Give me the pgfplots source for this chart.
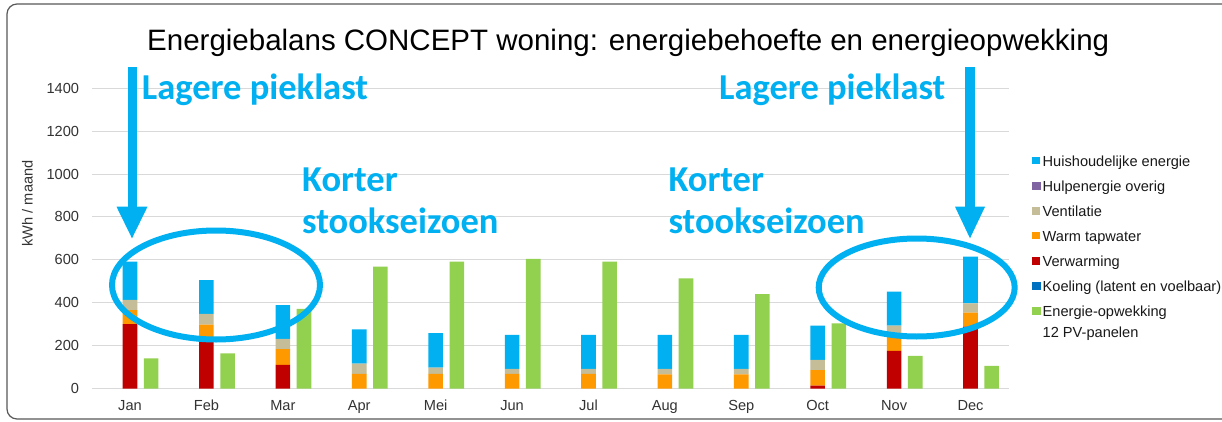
\documentclass[border=0pt]{standalone}
\usepackage{pgfplots}
\usepackage{pgfplotstable}
\pgfplotsset{compat=1.18}
\usepackage{fontspec}
\setmainfont{Liberation Sans}
\newfontfamily\carlito{Carlito}
\definecolor{huis}{HTML}{00B0F0}
\definecolor{hulp}{HTML}{8064A2}
\definecolor{vent}{HTML}{C4BD97}
\definecolor{tap}{HTML}{FF9900}
\definecolor{verw}{HTML}{C00000}
\definecolor{koel}{HTML}{0070C0}
\definecolor{pv}{HTML}{92D050}
\definecolor{annot}{HTML}{00B0F0}
\definecolor{txt}{HTML}{333333}
\definecolor{gridc}{HTML}{D9D9D9}
\newcommand{\sm}{\fontsize{14.6}{17}\selectfont}

\pgfplotstableread{
x verw tap vent huis pv
0 300 66 47 179 141
1 219 79 50 158 164
2 110 74 47 158 371
3 0 68 48 160 568
4 0 68 29 161 592
5 0 68 23 159 604
6 0 68 23 159 592
7 0 66 25 159 514
8 0 66 25 159 440
9 13 73 47 160 304
10 176 70 47 159 152
11 288 66 43 218 105
}\energy

\pgfplotsset{
  lg/.style={legend image code/.code={\fill[#1] (0pt,-1.6pt) rectangle (7.5pt,5.9pt);}},
  basis/.style={
    at={(91.8pt,32.5pt)}, anchor=south west,
    width=916.9pt, height=300.2pt, scale only axis,
    xmin=-0.5, xmax=11.5, ymin=0, ymax=1400,
  },
}

\begin{document}
\begin{tikzpicture}[x=1pt,y=1pt]
\useasboundingbox (0,0) rectangle (1222,421);
\clip (0,0) rectangle (1222,421);
\fill[white] (0,0) rectangle (1222,421);
\begin{axis}[basis,
  ybar stacked, bar width=0.191,
  axis line style={draw=none},
  major tick length=0pt,
  ymajorgrids, grid style={gridc, line width=1pt},
  xtick={0,...,11},
  xticklabels={Jan,Feb,Mar,Apr,Mei,Jun,Jul,Aug,Sep,Oct,Nov,Dec},
  ytick={0,200,...,1400},
  scaled y ticks=false,
  /pgf/number format/1000 sep={},
  /pgf/number format/assume math mode=true,
  tick label style={font=\sm, text=txt, inner sep=0pt},
  yticklabel style={anchor=east, xshift=-12.5pt},
  xticklabel style={anchor=base, yshift=-21.5pt},
  reverse legend,
  legend cell align=left,
  legend style={at={(axis description cs:1.0255,0.7755)}, anchor=north west,
    draw=none, fill=none, inner sep=0pt, row sep=11pt, column sep=2.5pt,
    font=\sm, text=black!90,
    nodes={inner sep=0pt, text height=11pt, text depth=3pt}},
]
\addlegendimage{lg=pv}
\addlegendentry{\makebox[0pt][l]{\raisebox{-21pt}[0pt][0pt]{12 PV-panelen}}Energie-opwekking}
\addlegendimage{lg=koel}
\addlegendentry{Koeling (latent en voelbaar)}
\addplot[fill=verw, draw=none, lg=verw] table[x=x,y=verw]{\energy};
\addlegendentry{Verwarming}
\addplot[fill=tap, draw=none, lg=tap] table[x=x,y=tap]{\energy};
\addlegendentry{Warm tapwater}
\addplot[fill=vent, draw=none, lg=vent] table[x=x,y=vent]{\energy};
\addlegendentry{Ventilatie}
\addlegendimage{lg=hulp}
\addlegendentry{Hulpenergie overig}
\addplot[fill=huis, draw=none, lg=huis] table[x=x,y=huis]{\energy};
\addlegendentry{Huishoudelijke energie}
\end{axis}
\begin{axis}[basis, hide axis]
\addplot[ybar, bar width=0.191, bar shift=0.277, fill=pv, draw=none] table[x=x,y=pv]{\energy};
\end{axis}
% title and axis label
\node[anchor=base west, inner sep=0pt, font=\fontsize{29.5}{32}\selectfont, text=black] at (147,370) {Energiebalans CONCEPT woning: energiebehoefte en energieopwekking};
\node[rotate=90, inner sep=0pt, font=\sm, text=txt] at (27.5,217.5) {kWh / maand};
% annotations
\fill[annot] (127.5,354.3) rectangle (137.3,214);
\fill[annot] (116.5,214.3) -- (147.5,214.3) -- (132,182.7) -- cycle;
\fill[annot] (965,354.3) rectangle (975,214);
\fill[annot] (955,214.3) -- (985,214.3) -- (970,182.7) -- cycle;
\draw[annot, line width=6] (216,136) ellipse [x radius=104, y radius=54.5];
\draw[annot, line width=6] (916.7,133.5) ellipse [x radius=98, y radius=49];
\begin{scope}[every node/.style={anchor=base west, inner sep=0pt, text=annot, font=\carlito\bfseries\fontsize{36.5}{40}\selectfont}]
\node at (141.7,321) {Lagere pieklast};
\node at (719,321) {Lagere pieklast};
\node at (302,229.3) {Korter};
\node at (302,188) {stookseizoen};
\node at (668.3,229.3) {Korter};
\node at (668.3,188) {stookseizoen};
\end{scope}
% frame
\draw[black!65, line width=1.2, rounded corners=10] (7,2) rectangle (1240,417);
\end{tikzpicture}
\end{document}
